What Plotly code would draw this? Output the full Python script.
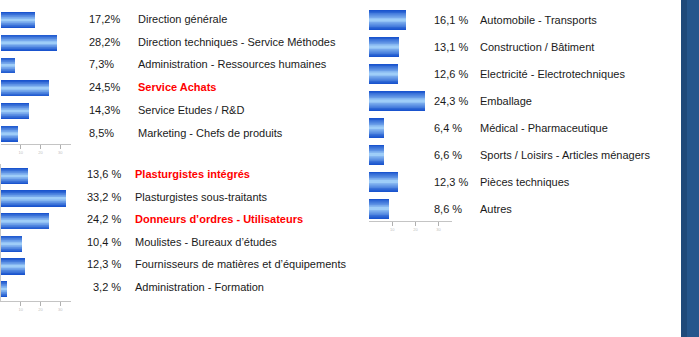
import plotly.graph_objects as go

# ---------------- data ----------------
g1_labels = ["Direction générale", "Direction techniques - Service Méthodes",
             "Administration - Ressources humaines", "Service Achats",
             "Service Etudes / R&D", "Marketing - Chefs de produits"]
g1_values = [17.2, 28.2, 7.3, 24.5, 14.3, 8.5]
g1_highlight = [False, False, False, True, False, False]

g2_labels = ["Plasturgistes intégrés", "Plasturgistes sous-traitants",
             "Donneurs d’ordres - Utilisateurs", "Moulistes - Bureaux d’études",
             "Fournisseurs de matières et d’équipements", "Administration - Formation"]
g2_values = [13.6, 33.2, 24.2, 10.4, 12.3, 3.2]
g2_highlight = [True, False, True, False, False, False]

g3_labels = ["Automobile - Transports", "Construction / Bâtiment",
             "Electricité - Electrotechniques", "Emballage",
             "Médical - Pharmaceutique", "Sports / Loisirs - Articles ménagers",
             "Pièces techniques", "Autres"]
g3_values = [16.1, 13.1, 12.6, 24.3, 6.4, 6.6, 12.3, 8.6]
g3_highlight = [False] * 8

tick_values = [10, 20, 30]

# ---------------- styling ----------------
W, H = 699, 337
FONT = "Liberation Sans, Arial, sans-serif"

# smooth gradient built from nested overlay bars: dark edges -> light centre
EDGE = (26, 84, 206)
CENTRE = (158, 205, 248)
N_LAYERS = 12
LAYERS = []
for k in range(N_LAYERS):
    frac = 1 - k / N_LAYERS
    t = (k / (N_LAYERS - 1)) ** 1.1
    c = tuple(round(EDGE[j] + (CENTRE[j] - EDGE[j]) * t) for j in range(3))
    LAYERS.append((frac, "rgb(%d,%d,%d)" % c))


def px_x(p):
    return p / W


def px_y(p):
    return 1 - p / H


groups = [
    dict(v=g1_values, l=g1_labels, h=g1_highlight, ax="", xd=(1, 71), xr=35.5,
         yd=(8, 144.3), yr=(-0.528, 5.466), bw=0.70, px=88, pa="left", lx=137,
         sep="", ys=1, yline=False),
    dict(v=g2_values, l=g2_labels, h=g2_highlight, ax="2", xd=(1, 71), xr=35.5,
         yd=(164, 300.7), yr=(-0.531, 5.518), bw=0.72, px=122, pa="right", lx=134,
         sep=" ", ys=2, yline=True),
    dict(v=g3_values, l=g3_labels, h=g3_highlight, ax="3", xd=(369, 452), xr=35.8,
         yd=(6, 221), yr=(-0.519, 7.456), bw=0.74, px=433, pa="left", lx=479,
         sep=" ", ys=0, yline=False),
]

fig = go.Figure()
annotations = []
layout_axes = {}

for g in groups:
    n = len(g["v"])
    idx = list(range(n))
    xa = "x" + g["ax"]
    ya = "y" + g["ax"]
    for frac, col in LAYERS:
        fig.add_trace(go.Bar(
            x=g["v"], y=idx, orientation="h", width=g["bw"] * frac,
            marker=dict(color=col, line=dict(width=0)),
            xaxis=xa, yaxis=ya, showlegend=False, hoverinfo="skip"))
    layout_axes["xaxis" + g["ax"]] = dict(
        domain=[px_x(g["xd"][0]), px_x(g["xd"][1])], range=[0, g["xr"]],
        anchor=ya, showgrid=False, zeroline=False, showline=True,
        linecolor="#c4c4c4", linewidth=1, ticks="outside", ticklen=4,
        tickcolor="#b0b0b0", tickvals=tick_values,
        tickfont=dict(size=4, color="#c0c0c0", family=FONT), fixedrange=True)
    layout_axes["yaxis" + g["ax"]] = dict(
        domain=[px_y(g["yd"][1]), px_y(g["yd"][0])],
        range=[g["yr"][1], g["yr"][0]], anchor=xa, showgrid=False,
        zeroline=False, showticklabels=False, ticks="",
        showline=g["yline"], linecolor="#c8c8c8", linewidth=1, fixedrange=True)
    for i, (val, lab, hl) in enumerate(zip(g["v"], g["l"], g["h"])):
        pct = f"{val:.1f}".replace(".", ",") + g["sep"] + "%"
        annotations.append(dict(
            x=px_x(g["px"]), xref="paper", y=i, yref=ya, text=pct,
            xanchor=g["pa"], yanchor="middle", showarrow=False, yshift=g["ys"],
            font=dict(family=FONT, size=11, color="#1a1a1a"), borderpad=0))
        txt = lab.replace("&", "&amp;")
        if hl:
            txt = "<b>" + txt + "</b>"
        annotations.append(dict(
            x=px_x(g["lx"]), xref="paper", y=i, yref=ya, text=txt,
            xanchor="left", yanchor="middle", showarrow=False, yshift=g["ys"],
            font=dict(family=FONT, size=11, color="#ff0000" if hl else "#1a1a1a"),
            borderpad=0))

shapes = [
    dict(type="rect", xref="paper", yref="paper", x0=px_x(681), x1=1, y0=0, y1=1,
         fillcolor="#25568c", line=dict(width=0), layer="below"),
    dict(type="rect", xref="paper", yref="paper", x0=px_x(681), x1=px_x(687), y0=0, y1=1,
         fillcolor="#1f4a7a", line=dict(width=0), layer="below"),
]

fig.update_layout(
    width=W, height=H, margin=dict(l=0, r=0, t=0, b=0),
    paper_bgcolor="white", plot_bgcolor="rgba(0,0,0,0)",
    barmode="overlay", bargap=0, showlegend=False,
    annotations=annotations, shapes=shapes, **layout_axes)

fig.write_html("out.html", config={"displayModeBar": False})
